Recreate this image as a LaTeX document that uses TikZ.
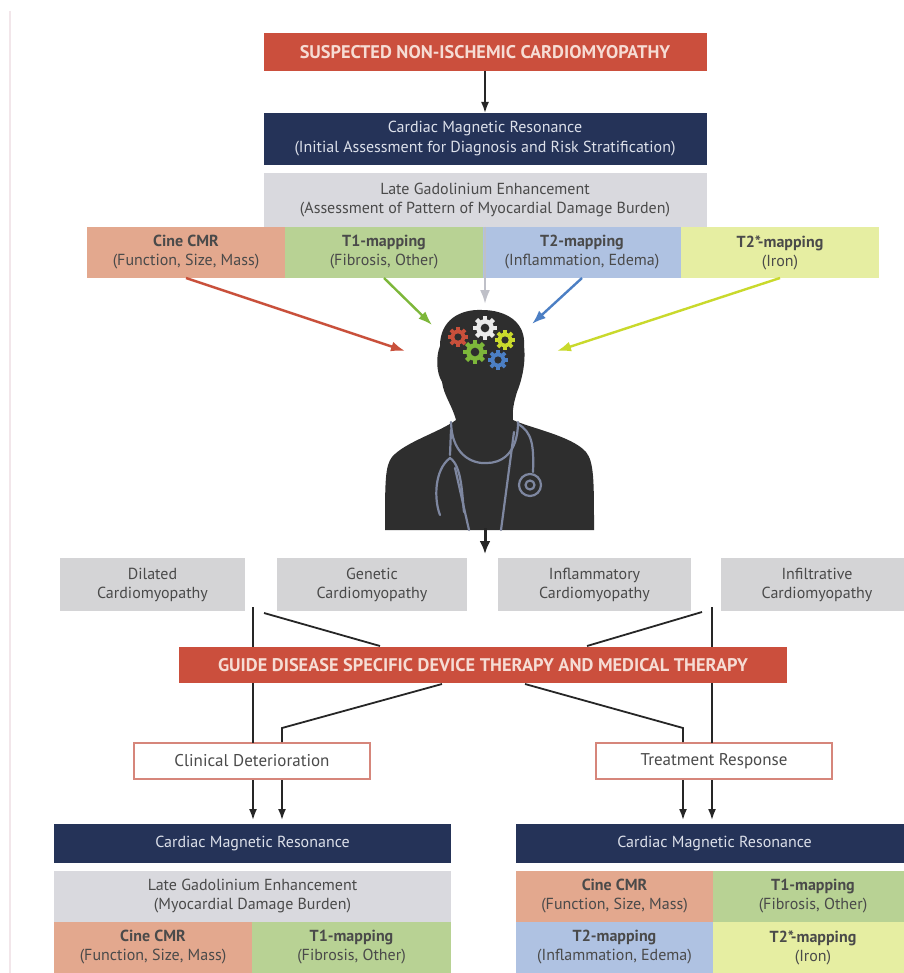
\documentclass[tikz,border=0pt]{standalone}
\usepackage{fontspec}
\setmainfont{PT Sans}
\usetikzlibrary{positioning,arrows.meta,calc}
\definecolor{cardred}{HTML}{CB4F3D}
\definecolor{redtext}{HTML}{F6DCD4}
\definecolor{navy}{HTML}{253358}
\definecolor{navytext}{HTML}{DCE0EA}
\definecolor{lgegray}{HTML}{D9D9DE}
\definecolor{classgray}{HTML}{D4D4D6}
\definecolor{cinesalmon}{HTML}{E3A88E}
\definecolor{tonegreen}{HTML}{B8D294}
\definecolor{ttwoblue}{HTML}{AFC2E2}
\definecolor{tstaryellow}{HTML}{E6EEA2}
\definecolor{boxtext}{HTML}{4A4A4A}
\definecolor{docblack}{HTML}{2E2E2E}
\definecolor{scopeblue}{HTML}{7E87A0}
\definecolor{framered}{HTML}{D6867B}
\definecolor{arrred}{HTML}{C9503B}
\definecolor{arrgreen}{HTML}{7DB73A}
\definecolor{arrblue}{HTML}{4C7FC4}
\definecolor{arryellow}{HTML}{C9D92C}
\definecolor{arrgray}{HTML}{BFC0C8}

\newcommand{\cog}[4]{%
  \foreach \a in {0,45,...,315}
    \draw[#4,line width=#3*0.36pt] (#1,#2) -- +(\a:#3);
  \fill[#4] (#1,#2) circle[radius=#3*0.74pt];
  \fill[docblack] (#1,#2) circle[radius=#3*0.36pt];
}

\begin{document}
\begin{tikzpicture}[x=1pt,y=-1pt,>=Latex,
  cell/.style={inner sep=0pt,outer sep=0pt,align=center,text=boxtext,
    font=\fontsize{16}{19}\selectfont},
  redbar/.style={cell,fill=cardred,text=redtext,font=\bfseries\fontsize{18.3}{21}\selectfont},
  navybar/.style={cell,fill=navy,text=navytext,font=\fontsize{16}{20}\selectfont},
  classbox/.style={cell,fill=classgray,minimum height=53pt},
  outcome/.style={cell,draw=framered,line width=1.6pt,fill=white,minimum width=236pt,
    minimum height=36pt,font=\fontsize{17}{20}\selectfont},
  link/.style={draw=black!85,line width=1.8pt},
  feed/.style={line width=2.4pt,-{Latex[length=14pt,width=10pt]}},
  steth/.style={draw=scopeblue,line width=2.2pt,line cap=round}]

  \fill[white] (0,0) rectangle (903,973);
  \useasboundingbox (0,0) rectangle (903,973);
  \draw[color={rgb,255:red,242;green,230;blue,234},line width=2pt] (10,11) -- (10,973);

  \node[redbar,minimum width=443pt,minimum height=38pt] (susp) at (485,52)
    {SUSPECTED NON-ISCHEMIC CARDIOMYOPATHY};
  \node[navybar,minimum width=443pt,minimum height=52pt] (cmr) at (485,139)
    {Cardiac Magnetic Resonance\\(Initial Assessment for Diagnosis and Risk Stratification)};
  \node[cell,fill=lgegray,minimum width=443pt,minimum height=54pt] (lge) at (485,200)
    {Late Gadolinium Enhancement\\(Assessment of Pattern of Myocardial Damage Burden)};
  \node[cell,fill=cinesalmon,minimum width=198pt,minimum height=51pt] (cine) at (186,252.5)
    {\textbf{Cine CMR}\\(Function, Size, Mass)};
  \node[cell,fill=tonegreen,minimum width=198pt,minimum height=51pt,right=0pt of cine] (tone)
    {\textbf{T1-mapping}\\(Fibrosis, Other)};
  \node[cell,fill=ttwoblue,minimum width=198pt,minimum height=51pt,right=0pt of tone] (ttwo)
    {\textbf{T2-mapping}\\(Inflammation, Edema)};
  \node[cell,fill=tstaryellow,minimum width=198pt,minimum height=51pt,right=0pt of ttwo] (tstar)
    {\textbf{T2*-mapping}\\(Iron)};

  \draw[link,-{Latex[length=11pt,width=8pt]}] (susp) -- (cmr);

  % physician
  \fill[docblack] (456,420) .. controls (452,405) and (444,396) .. (442,382)
    .. controls (436,372) and (436,356) .. (440,346)
    .. controls (440,320) and (460,309) .. (482,310)
    .. controls (506,310) and (526,322) .. (524,346)
    .. controls (526,362) and (522,380) .. (517,392)
    .. controls (514,402) and (512,410) .. (513,420)
    .. controls (530,428) and (572,436) .. (586,452)
    .. controls (594,462) and (594,480) .. (594,530)
    -- (385,530)
    .. controls (385,482) and (385,466) .. (392,457)
    .. controls (405,442) and (440,432) .. (456,420) -- cycle;
  \draw[steth] (451,422) .. controls (452,460) and (478,464) .. (487,463)
    .. controls (500,463) and (518,455) .. (518,422);
  \draw[steth] (518,424) .. controls (532,432) and (534,445) .. (533,472);
  \draw[steth] (530,485) circle[radius=11pt];
  \draw[steth] (530,485) circle[radius=4.5pt];
  \draw[steth] (514,432) -- (501,530);
  \draw[steth] (451,430) -- (450,455);
  \draw[steth] (440,515) .. controls (434,500) and (434,470) .. (450,458)
    .. controls (462,466) and (462,495) .. (464,512);
  \draw[steth] (455,468) -- (469,530);
  \cog{458}{337}{10}{arrred}
  \cog{485}{328}{12}{black!8}
  \cog{505}{340}{10}{arryellow}
  \cog{475}{352}{12}{arrgreen}
  \cog{498}{360}{10}{arrblue}
  \coordinate (tipred) at (405,351);
  \coordinate (tipgreen) at (432,325);
  \coordinate (tipgray) at (485,304);
  \coordinate (tipblue) at (532,324);
  \coordinate (tipyellow) at (557,351);
  \coordinate (docbase) at (485,528);

  \draw[feed,arrred] (cine.south) -- (tipred);
  \draw[feed,arrgreen] (tone.south) -- (tipgreen);
  \draw[feed,arrgray] (lge.south) -- (tipgray);
  \draw[feed,arrblue] (ttwo.south) -- (tipblue);
  \draw[feed,arryellow] (tstar.south) -- (tipyellow);

  \node[classbox,minimum width=185pt] (dcm) at (152.5,584.5) {Dilated\\Cardiomyopathy};
  \node[classbox,minimum width=190pt] (gcm) at (372,584.5) {Genetic\\Cardiomyopathy};
  \node[classbox,minimum width=193pt] (icm) at (594.5,584.5) {Inflammatory\\Cardiomyopathy};
  \node[classbox,minimum width=192pt] (xcm) at (817,584.5) {Infiltrative\\Cardiomyopathy};
  \draw[link,line width=3pt,-{Latex[length=13pt,width=11pt]}] (docbase) -- ++(0,26);

  \node[redbar,minimum width=608pt,minimum height=36pt] (guide) at (483,665)
    {GUIDE DISEASE SPECIFIC DEVICE THERAPY AND MEDICAL THERAPY};
  \coordinate (la) at (253,607);
  \coordinate (lb) at (264,613);
  \coordinate (ra) at (712,607);
  \coordinate (rb) at (702,612);
  \draw[link] (la) -- (la |- guide.north);
  \draw[link] (lb) -- (380,646);
  \draw[link] (ra) -- (ra |- guide.north);
  \draw[link] (rb) -- (587,646);

  \node[outcome] (clin) at (252,761) {Clinical Deterioration};
  \node[outcome] (resp) at (714,761) {Treatment Response};
  \draw[link] (la |- guide.south) -- (la |- clin.north);
  \draw[link] (442,684) -- (282,728) -- (282,742);
  \draw[link] (525,684) -- (683,728) -- (683,742);
  \draw[link] (ra |- guide.south) -- (ra |- resp.north);

  \node[navybar,minimum width=397pt,minimum height=39pt] (cmrl) at (252.5,843.5)
    {Cardiac Magnetic Resonance};
  \node[navybar,minimum width=397pt,minimum height=39pt] (cmrr) at (714.5,843.5)
    {Cardiac Magnetic Resonance};
  \foreach \x in {253,282}
    \draw[link,-{Latex[length=11pt,width=8pt]}] (\x,780) -- (\x,820);
  \foreach \x in {683,712}
    \draw[link,-{Latex[length=11pt,width=8pt]}] (\x,780) -- (\x,820);

  \node[cell,fill=lgegray,minimum width=397pt,minimum height=51pt] (lgel) at (252.5,896.5)
    {Late Gadolinium Enhancement\\(Myocardial Damage Burden)};
  \node[cell,fill=cinesalmon,minimum width=198pt,minimum height=51pt] (cinel) at (153,947.5)
    {\textbf{Cine CMR}\\(Function, Size, Mass)};
  \node[cell,fill=tonegreen,minimum width=199pt,minimum height=51pt,right=0pt of cinel] (tonel)
    {\textbf{T1-mapping}\\(Fibrosis, Other)};

  \node[cell,fill=cinesalmon,minimum width=197pt,minimum height=51pt] (diner) at (614.5,896.5)
    {\textbf{Cine CMR}\\(Function, Size, Mass)};
  \node[cell,fill=tonegreen,minimum width=200pt,minimum height=51pt,right=0pt of diner] (toner)
    {\textbf{T1-mapping}\\(Fibrosis, Other)};
  \node[cell,fill=ttwoblue,minimum width=197pt,minimum height=51pt,below=0pt of diner] (ttwor)
    {\textbf{T2-mapping}\\(Inflammation, Edema)};
  \node[cell,fill=tstaryellow,minimum width=200pt,minimum height=51pt,right=0pt of ttwor] (tstarr)
    {\textbf{T2*-mapping}\\(Iron)};
\end{tikzpicture}
\end{document}
